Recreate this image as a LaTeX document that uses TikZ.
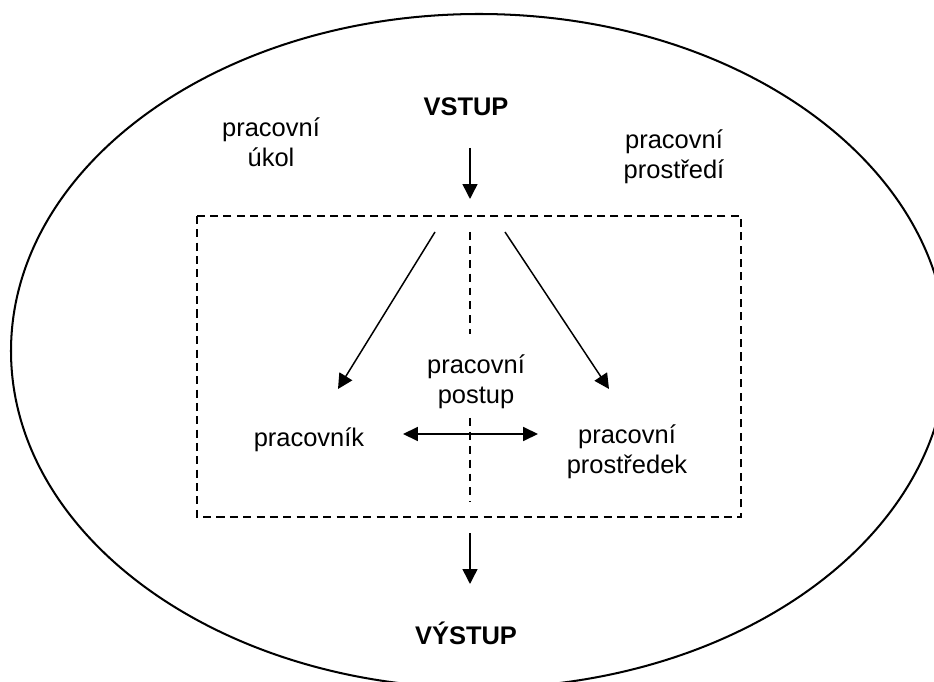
\documentclass[tikz,border=0pt]{standalone}
\usepackage{fontspec}
\setmainfont{Liberation Sans}
\usetikzlibrary{arrows.meta}

\begin{document}
\begin{tikzpicture}[x=0.02cm, y=0.02cm,
    font=\fontsize{14.5}{17}\selectfont,
    arrline/.style={black, line width=0.85pt, -{Triangle[length=8.5pt,width=8.5pt]}},
    boxline/.style={black, line width=1.1pt, dash pattern=on 4.6pt off 3pt},
    midline/.style={black, line width=0.9pt, dash pattern=on 4.5pt off 3.4pt}]
        \tikzstyle{every node}+=[inner sep=0pt, align=center]
        \useasboundingbox (0,0) rectangle (934,-682);
        \clip (0,0) rectangle (934,-682);
        \draw [black, line width=1.15pt] (479,-351) ellipse (468 and 337);
        \draw [boxline] (197,-216) rectangle (741,-517);
        % texts
        \node (vstup) at (466,-107) {\bfseries VSTUP};
        \node (ukol) at (271,-142) {pracovní\\úkol};
        \node (prostredi) at (674,-157) {pracovní\\prostředí};
        \node (postup) at (476,-382) {pracovní\\postup};
        \node (pracovnik) at (309,-440) {pracovník};
        \node (prostredek) at (627,-452) {pracovní\\prostředek};
        \node (vystup) at (466,-633) {\bfseries VÝSTUP};
        % arrow ends
        \coordinate (vstupA) at (470,-148);
        \coordinate (vstupB) at (470,-199);
        \coordinate (forkL) at (435,-232);
        \coordinate (forkR) at (505,-232);
        \coordinate (tipL) at (338,-389);
        \coordinate (tipR) at (609,-389);
        \coordinate (swapL) at (403,-434);
        \coordinate (swapR) at (538,-434);
        \coordinate (vystupA) at (470,-533);
        \coordinate (vystupB) at (470,-584);
        \coordinate (midA) at (470,-232);
        \coordinate (midB) at (470,-334);
        \coordinate (midC) at (470,-418);
        \coordinate (midD) at (470,-502);
        % connectors
        \draw [arrline] (vstupA) -- (vstupB);
        \draw [arrline] (forkL) -- (tipL);
        \draw [arrline] (forkR) -- (tipR);
        \draw [arrline, {Triangle[length=8.5pt,width=8pt]}-{Triangle[length=8.5pt,width=8pt]}] (swapL) -- (swapR);
        \draw [arrline] (vystupA) -- (vystupB);
        \draw [midline] (midA) -- (midB);
        \draw [midline] (midC) -- (midD);
\end{tikzpicture}
\end{document}
